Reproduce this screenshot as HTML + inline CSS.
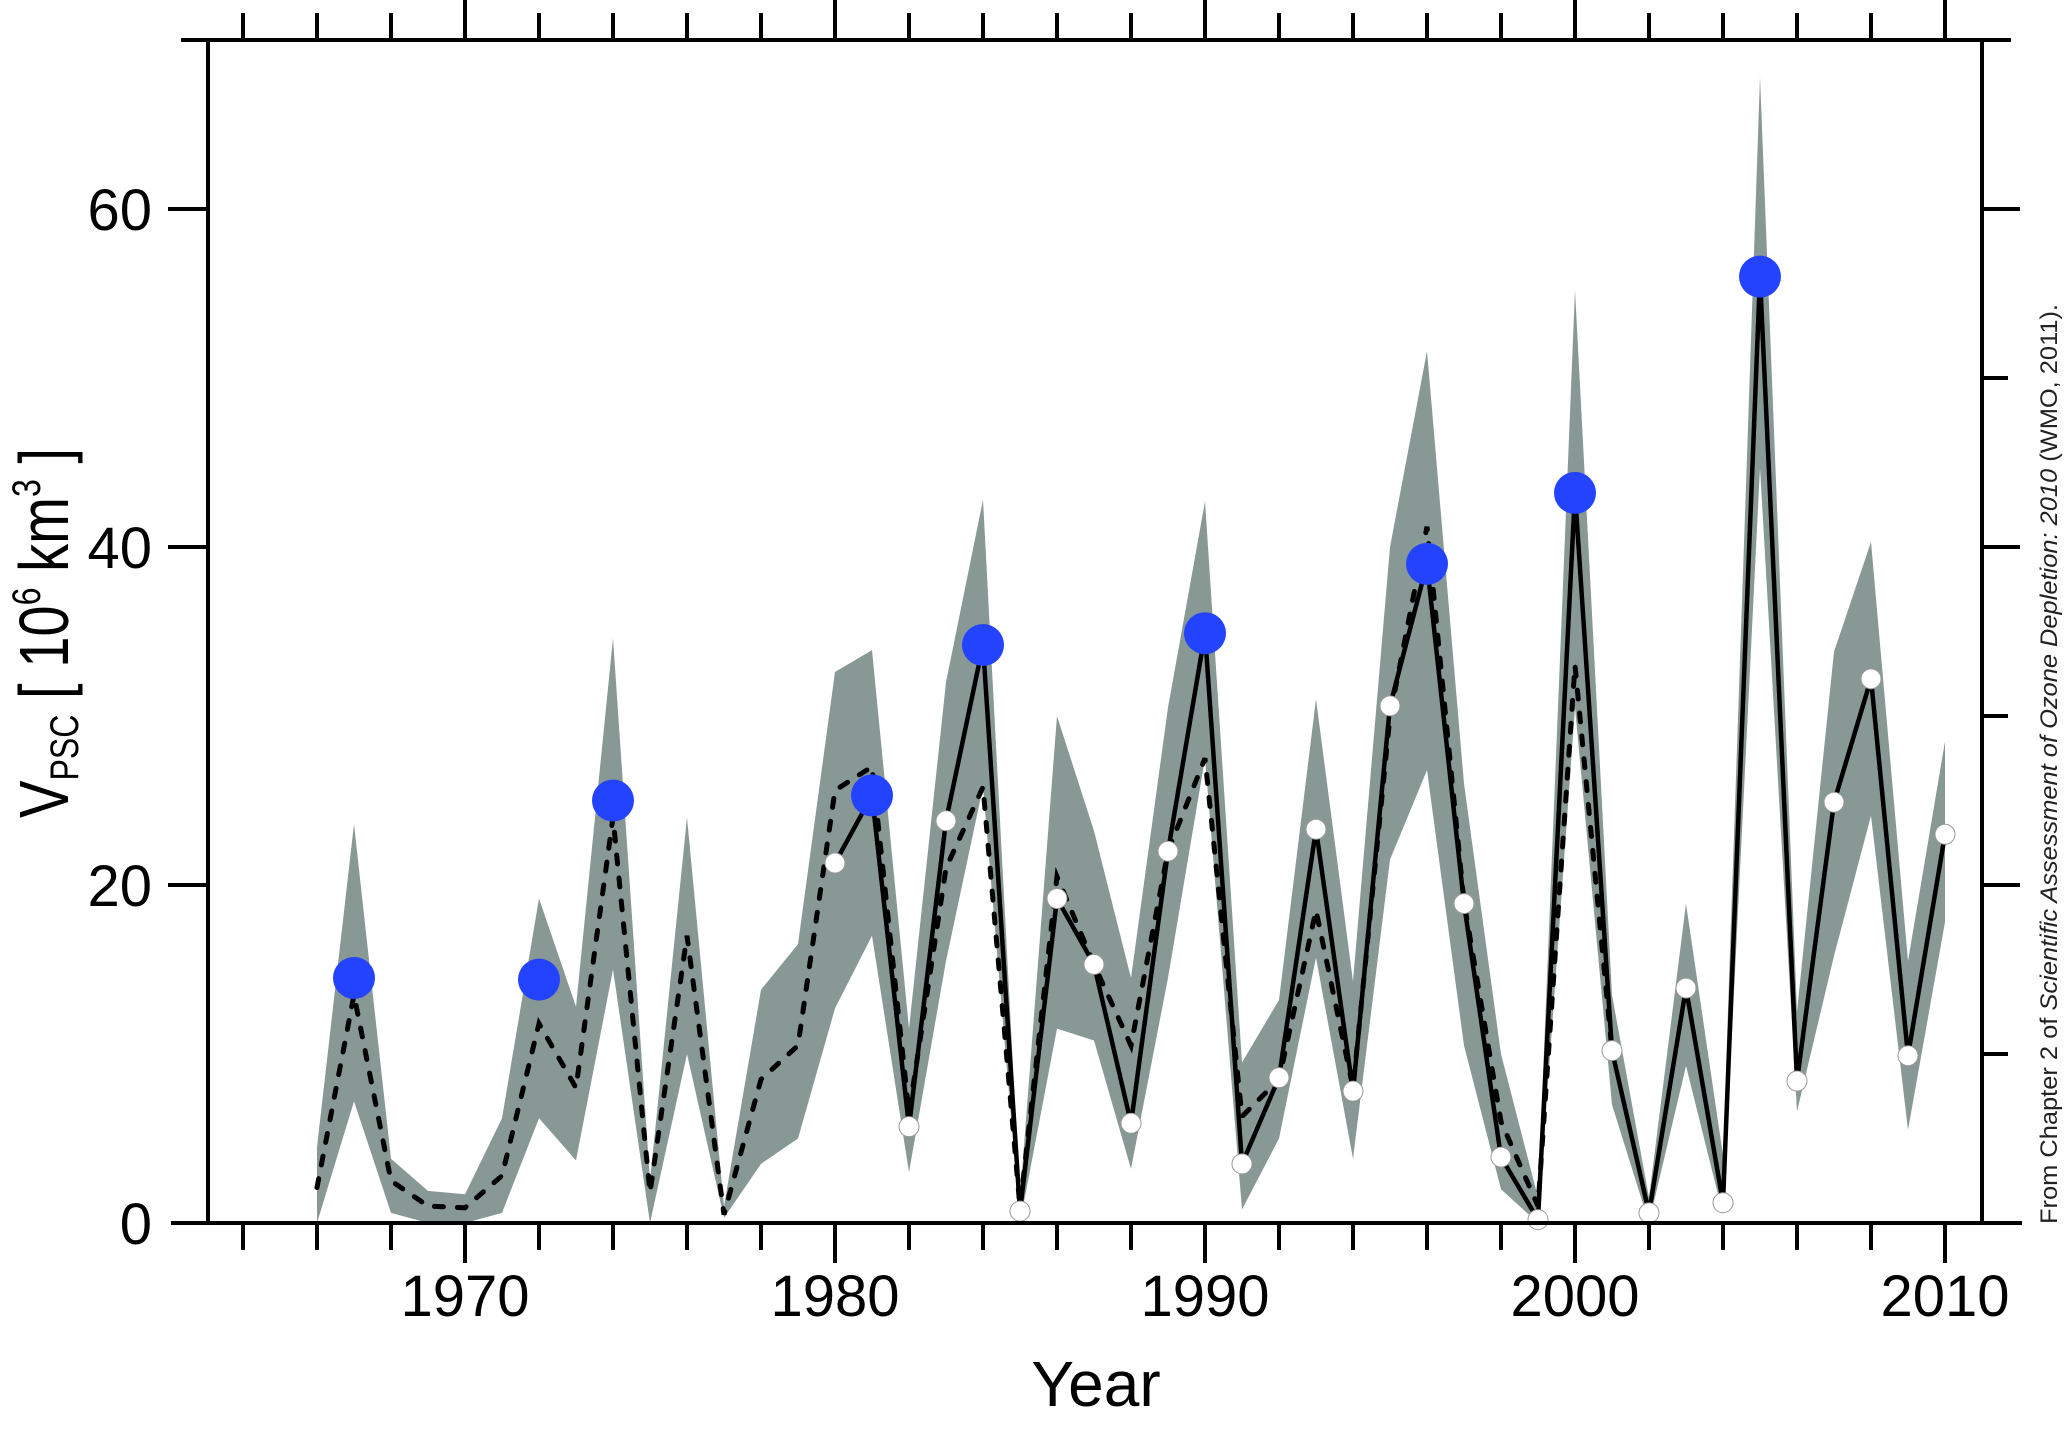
<!DOCTYPE html>
<html><head><meta charset="utf-8"><style>
html,body{margin:0;padding:0;background:#fff;}
svg{display:block;font-family:"Liberation Sans",sans-serif;}
</style></head><body>
<svg id="chart" width="2064" height="1435" viewBox="0 0 2064 1435" xmlns="http://www.w3.org/2000/svg">
<g id="band"></g>
<g id="lines"></g>
<g id="marks"></g>
<g id="axes"></g>
<text x="1096" y="1406" font-size="64" text-anchor="middle">Year</text>
<text transform="translate(68,818) rotate(-90)" font-size="70" textLength="370" lengthAdjust="spacingAndGlyphs">V<tspan font-size="40" dy="10">PSC</tspan><tspan dy="-10"> [ 10</tspan><tspan font-size="40" dy="-28">6</tspan><tspan dy="28"> km</tspan><tspan font-size="40" dy="-28">3</tspan><tspan dy="28"> ]</tspan></text>
<text transform="translate(2057,1224) rotate(-90)" font-size="24" fill="#222" textLength="920" lengthAdjust="spacingAndGlyphs">From Chapter 2 of <tspan font-style="italic">Scientific Assessment of Ozone Depletion: 2010</tspan> (WMO, 2011).</text>
</svg>
<script>
const years = [1966,1967,1968,1969,1970,1971,1972,1973,1974,1975,1976,1977,1978,1979,1980,1981,1982,1983,1984,1985,1986,1987,1988,1989,1990,1991,1992,1993,1994,1995,1996,1997,1998,1999,2000,2001,2002,2003,2004,2005,2006,2007,2008,2009,2010];
const bandUpper = [4.5,23.6,3.8,1.9,1.7,6.2,19.2,12.8,34.6,2.5,24.0,1.0,13.8,16.5,32.6,33.9,11.5,32.0,42.8,1.5,30.0,23.2,14.5,30.5,42.7,9.5,13.2,31.0,14.3,40.0,51.6,26.0,10.0,1.5,55.2,13.5,1.5,18.9,4.0,67.8,12.5,33.8,40.3,15.5,28.5];
const bandLower = [0,7.2,0.6,0,0,0.6,6.2,3.7,15.0,0,10.0,0.3,3.5,5.0,12.7,17.0,3.0,15.5,25.8,0,11.5,10.8,3.2,14.5,27.5,0.8,5.0,15.7,3.8,21.5,26.8,10.5,2.0,0,30.5,7.0,0,9.3,0.5,44.7,6.6,15.8,24.1,5.5,17.8];
const dottedValues = [2.1,13.5,2.5,1.0,0.9,2.8,11.8,8.0,24.0,1.8,17.0,0.5,8.5,10.5,25.6,27.0,6.5,21.0,25.8,0.9,20.5,15.3,10.5,22.0,27.5,6.3,8.5,18.5,8.0,30.0,41.2,19.0,6.0,1.0,33.0,10.2];
const solidYears = [1980,1981,1982,1983,1984,1985,1986,1987,1988,1989,1990,1991,1992,1993,1994,1995,1996,1997,1998,1999,2000,2001,2002,2003,2004,2005,2006,2007,2008,2009,2010];
const solidValues = [21.3,25.3,5.7,23.8,34.2,0.7,19.2,15.3,5.9,22.0,34.9,3.5,8.6,23.3,7.8,30.6,39.0,18.9,3.9,0.2,43.2,10.2,0.6,13.9,1.2,56.0,8.4,24.9,32.2,9.9,23.0];
const blueYears = [1967,1972,1974,1981,1984,1990,1996,2000,2005];
const blueValues = [14.5,14.4,25.0,25.3,34.2,34.9,39.0,43.2,56.0];
const yTickLabels = [0,20,40,60];
const xTickLabels = [1970,1980,1990,2000,2010];

const NS='http://www.w3.org/2000/svg';
function X(yr){return 465 + (yr-1970)*37.0;}
function Y(v){return 1223 - v*16.9;}
function mk(tag,attrs,parent){const e=document.createElementNS(NS,tag);for(const k in attrs)e.setAttribute(k,attrs[k]);parent.appendChild(e);return e;}

const band=document.getElementById('band');
let pts=years.map((y,i)=>X(y)+','+Y(bandUpper[i]));
for(let i=years.length-1;i>=0;i--)pts.push(X(years[i])+','+Y(bandLower[i]));
const poly=mk('polygon',{points:pts.join(' '),fill:'#889995'},band);



const lines=document.getElementById('lines');
const dot=mk('polyline',{points:dottedValues.map((v,i)=>X(years[i])+','+Y(v)).join(' '),fill:'none',stroke:'#000','stroke-width':5,'stroke-dasharray':'9 14','stroke-linecap':'round'},lines);


const sol=mk('polyline',{points:solidValues.map((v,i)=>X(solidYears[i])+','+Y(v)).join(' '),fill:'none',stroke:'#000','stroke-width':4.5},lines);



const marks=document.getElementById('marks');
solidValues.forEach((v,i)=>{
  const c=mk('circle',{cx:X(solidYears[i]),cy:Y(v),r:10,fill:'#fff',stroke:'#999','stroke-width':1},marks);
  
  
});
blueValues.forEach((v,i)=>{
  const c=mk('circle',{cx:X(blueYears[i]),cy:Y(v),r:21,fill:'#2443ff'},marks);
  
  
});

const axes=document.getElementById('axes');
const st={stroke:'#000','stroke-width':4};
function ln(x1,y1,x2,y2,name){const l=mk('line',Object.assign({x1,y1,x2,y2},st),axes);
  
  }
ln(171,1223,2022,1223,'x-axis-bottom');
ln(181,40,2011,40,'x-axis-top');
ln(208,40,208,1223,'y-axis-left');
ln(1982,40,1982,1223,'y-axis-right');
for(let yr=1964;yr<=2010;yr+=2){
  const major=(yr%10===0);
  ln(X(yr),1223,X(yr),major?1263:1250,'x-tick-bottom');
  ln(X(yr),40,X(yr),major?0:13,'x-tick-top');
}
for(let v=10;v<=60;v+=10){
  const major=(v%20===0);
  ln(1982,Y(v),major?2020:2008,Y(v),'y-tick-right');
}
yTickLabels.forEach(v=>{
  if(v>0) ln(168,Y(v),208,Y(v),'y-tick-left');
  const t=mk('text',{x:152,y:Y(v)+21,'font-size':58,'text-anchor':'end'},axes);
  t.textContent=v;
  
  
});
xTickLabels.forEach(v=>{
  const t=mk('text',{x:X(v),y:1316,'font-size':58,'text-anchor':'middle'},axes);
  t.textContent=v;
  
  
});
</script>
</body></html>
